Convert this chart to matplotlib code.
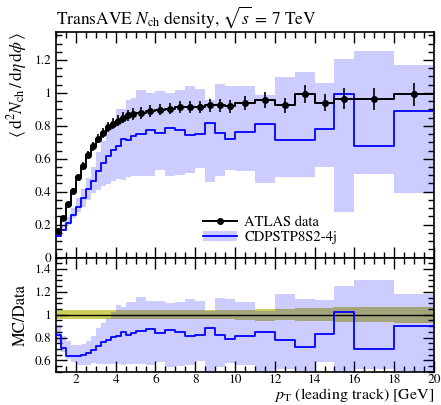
"""
TransAVE Nch density vs leading-track pT, ATLAS data vs CDPSTP8S2-4j
"""

import numpy as np
import matplotlib
matplotlib.use('Agg')
import matplotlib.pyplot as plt
from matplotlib.lines import Line2D
from matplotlib.patches import Patch
from matplotlib.ticker import MultipleLocator, FormatStrFormatter

plt.rcParams['font.family'] = 'STIXGeneral'
plt.rcParams['mathtext.fontset'] = 'stix'

# bin edges in pT (leading track) [GeV]
edges = [1.0, 1.25, 1.5, 1.75, 2.0, 2.25, 2.5, 2.75, 3.0, 3.25, 3.5, 3.75,
         4.0, 4.25, 4.5, 4.75, 5.0, 5.5, 6.0, 6.5, 7.0, 7.5, 8.0, 8.5, 9.0,
         9.5, 10.0, 11.0, 12.0, 13.0, 14.0, 15.0, 16.0, 18.0, 20.0]

data_val = [0.160, 0.239, 0.324, 0.407, 0.489, 0.558, 0.625, 0.676, 0.722,
            0.757, 0.791, 0.814, 0.832, 0.849, 0.863, 0.873, 0.879, 0.891,
            0.899, 0.905, 0.916, 0.916, 0.916, 0.924, 0.924, 0.918, 0.938,
            0.956, 0.925, 0.992, 0.940, 0.966, 0.963, 0.991]

data_err = [0.006, 0.009, 0.013, 0.016, 0.020, 0.022, 0.025, 0.027, 0.029,
            0.030, 0.031, 0.032, 0.033, 0.034, 0.034, 0.035, 0.035, 0.035,
            0.036, 0.036, 0.037, 0.037, 0.037, 0.037, 0.037, 0.037, 0.042,
            0.050, 0.046, 0.055, 0.051, 0.066, 0.065, 0.071]

mc_val = [0.131, 0.170, 0.207, 0.259, 0.310, 0.360, 0.415, 0.466, 0.523,
          0.574, 0.614, 0.655, 0.675, 0.720, 0.713, 0.736, 0.752, 0.777,
          0.754, 0.786, 0.776, 0.744, 0.752, 0.820, 0.759, 0.720, 0.764,
          0.813, 0.716, 0.714, 0.780, 0.992, 0.675, 0.889]

mc_lo = [0.122, 0.160, 0.198, 0.240, 0.274, 0.310, 0.350, 0.390, 0.411,
         0.432, 0.448, 0.463, 0.475, 0.472, 0.488, 0.497, 0.497, 0.497,
         0.529, 0.493, 0.503, 0.513, 0.544, 0.456, 0.497, 0.530, 0.527,
         0.455, 0.489, 0.490, 0.553, 0.275, 0.505, 0.390]

mc_hi = [0.145, 0.195, 0.249, 0.300, 0.360, 0.415, 0.482, 0.550, 0.640,
         0.705, 0.770, 0.830, 0.900, 0.905, 0.960, 0.972, 1.015, 1.000,
         1.010, 1.000, 1.020, 1.045, 1.025, 0.955, 1.055, 1.045, 1.045,
         0.990, 1.095, 1.125, 1.060, 1.208, 1.255, 1.168]

x_ticks = [2, 4, 6, 8, 10, 12, 14, 16, 18, 20]


def stepped(vals):
    """repeat last value so step='post' covers the final bin"""
    v = np.asarray(vals, dtype=float)
    return np.append(v, v[-1])


edges_a = np.array(edges)
centers = 0.5 * (edges_a[:-1] + edges_a[1:])
dval = np.array(data_val)
derr = np.array(data_err)
mval = np.array(mc_val)
mlo = np.array(mc_lo)
mhi = np.array(mc_hi)

band_col = (0.0, 0.0, 1.0, 0.2)
data_band_col = '#cdcd5a'

fig = plt.figure(figsize=(4.41, 4.05), dpi=100)
ax = fig.add_axes([0.127, 0.364, 0.857, 0.557])
rax = fig.add_axes([0.127, 0.082, 0.857, 0.282], sharex=ax)

# --- main panel
ax.fill_between(edges_a, stepped(mlo), stepped(mhi), step='post',
                facecolor=band_col, edgecolor='none', zorder=1)
ax.step(edges_a, stepped(mval), where='post', color='blue', lw=1.3, zorder=3)
ax.step(edges_a, stepped(dval), where='post', color='black', lw=1.4, zorder=4)
ax.errorbar(centers, dval, yerr=derr, fmt='o', color='black', ms=4,
            elinewidth=1.2, capsize=0, zorder=5)

ax.set_xlim(1, 20)
ax.set_ylim(0, 1.37)
ax.set_title(r'TransAVE $N_\mathrm{ch}$ density, $\sqrt{s}\,=\,7$ TeV',
             loc='left', fontsize=12.5, pad=6)
ax.set_ylabel(r'$\langle\,\mathrm{d}^2 N_\mathrm{ch}\,/\,\mathrm{d}\eta\,\mathrm{d}\phi\,\rangle$',
              loc='top', fontsize=12.5)
ax.yaxis.set_label_coords(-0.072, 1.0)

handles = [Line2D([], [], color='black', lw=1.4, marker='o', ms=4),
           (Patch(facecolor=band_col, edgecolor='none'),
            Line2D([], [], color='blue', lw=1.3))]
ax.legend(handles, ['ATLAS data', 'CDPSTP8S2-4j'], loc='lower left',
          bbox_to_anchor=(0.355, 0.0), frameon=False, fontsize=10.5,
          handlelength=2.3, handletextpad=0.5, labelspacing=0.12)

# --- ratio panel
ones = np.ones_like(dval)
rax.fill_between(edges_a, stepped(1 - derr / dval), stepped(1 + derr / dval),
                 step='post', facecolor=data_band_col, edgecolor='none', zorder=1)
rax.fill_between(edges_a, stepped(mlo / dval), stepped(mhi / dval), step='post',
                 facecolor=band_col, edgecolor='none', zorder=2)
rax.step(edges_a, stepped(ones), where='post', color='black', lw=1.0, zorder=3)
rax.step(edges_a, stepped(mval / dval), where='post', color='blue', lw=1.3, zorder=4)

rax.set_ylim(0.5, 1.5)
rax.set_ylabel('MC/Data', fontsize=12)
rax.yaxis.set_label_coords(-0.072, 0.5)
rax.set_xlabel(r'$p_\mathrm{T}$ (leading track) [GeV]', loc='right', fontsize=11.5)
rax.xaxis.set_label_coords(1.0, -0.125)

# --- ticks
for a in (ax, rax):
    a.tick_params(which='both', direction='in', top=True, right=True,
                  labelsize=9.5, width=1.0)
    a.tick_params(which='major', length=8)
    a.tick_params(which='minor', length=4)
    a.xaxis.set_major_locator(plt.FixedLocator(x_ticks))
    a.xaxis.set_minor_locator(MultipleLocator(0.5))
    a.yaxis.set_major_locator(MultipleLocator(0.2))
    a.yaxis.set_minor_locator(MultipleLocator(0.05))
    a.yaxis.set_major_formatter(FormatStrFormatter('%g'))
    for s in a.spines.values():
        s.set_linewidth(1.2)
plt.setp(ax.get_xticklabels(), visible=False)
rax.xaxis.set_major_formatter(FormatStrFormatter('%g'))
rax.tick_params(axis='x', pad=2)
rax.set_yticks([0.6, 0.8, 1.0, 1.2, 1.4])
rax.yaxis.set_minor_locator(MultipleLocator(0.05))

fig.savefig('out.png', dpi=100)
